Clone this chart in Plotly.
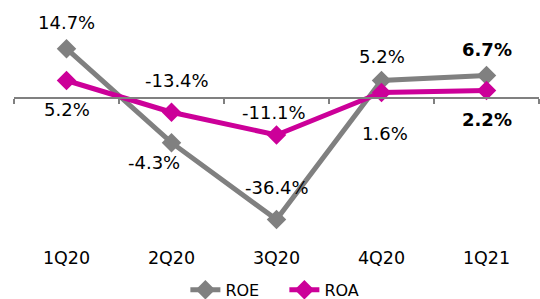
import plotly.graph_objects as go

quarters = ["1Q20", "2Q20", "3Q20", "4Q20", "1Q21"]
roe = [14.7, -13.4, -36.4, 5.2, 6.7]
roa = [5.2, -4.3, -11.1, 1.6, 2.2]

# label styling (offsets in pixels relative to each point)
roe_dx = [0, 5, 0, 0, 0]
roe_dy = [26, 62, 32, 24, 26]
roa_dx = [0, -18, -3, 3, 0]
roa_dy = [-29, -50, 22, -41, -29]
bold_last = [False, False, False, False, True]

GRAY = "#808080"
MAG = "#CC0099"
FONT = "DejaVu Sans"

yr = [-44, 20]

fig = go.Figure()
fig.add_trace(go.Scatter(
    x=quarters, y=roe, name="ROE", mode="lines+markers",
    line=dict(color=GRAY, width=5),
    marker=dict(symbol="diamond", size=15, color=GRAY),
))
fig.add_trace(go.Scatter(
    x=quarters, y=roa, name="ROA", mode="lines+markers",
    line=dict(color=MAG, width=5),
    marker=dict(symbol="diamond", size=15, color=MAG),
))
# invisible trace to carry the zero-line axis
fig.add_trace(go.Scatter(
    x=list(range(len(quarters))), y=[0] * len(quarters), xaxis="x2",
    mode="markers", marker=dict(opacity=0), showlegend=False, hoverinfo="skip",
))

def fmt(v, b):
    t = f"{v:.1f}%"
    return f"<b>{t}</b>" if b else t

anns = []
for i, q in enumerate(quarters):
    anns.append(dict(x=q, y=roe[i], text=fmt(roe[i], bold_last[i]), showarrow=False,
                     xshift=roe_dx[i], yshift=roe_dy[i],
                     font=dict(family=FONT, size=18, color="black")))
    anns.append(dict(x=q, y=roa[i], text=fmt(roa[i], bold_last[i]), showarrow=False,
                     xshift=roa_dx[i], yshift=roa_dy[i],
                     font=dict(family=FONT, size=18, color="black")))

n = len(quarters)
zero_frac = (0 - yr[0]) / (yr[1] - yr[0])

fig.update_layout(
    width=540, height=299,
    margin=dict(l=14, r=1, t=31, b=54, autoexpand=False),
    paper_bgcolor="white", plot_bgcolor="white",
    font=dict(family=FONT, size=17, color="black"),
    showlegend=True,
    legend=dict(orientation="h", x=0.515, xanchor="center", y=-0.13, yanchor="top",
                font=dict(family=FONT, size=16), itemwidth=30, tracegroupgap=0,
                entrywidth=54, entrywidthmode="pixels"),
    xaxis=dict(type="category", categoryorder="array", categoryarray=quarters,
               range=[-0.5, n - 0.5], showline=False, showgrid=False, zeroline=False,
               ticks="", tickfont=dict(family=FONT, size=17.5)),
    xaxis2=dict(overlaying="x", anchor="free", position=zero_frac, range=[-0.5, n - 0.5],
                showline=True, linecolor="#808080", linewidth=1.5,
                ticks="outside", ticklen=5, tickcolor="#808080", tickwidth=1.5,
                tickvals=[i - 0.5 for i in range(n + 1)], showticklabels=False,
                showgrid=False, zeroline=False),
    yaxis=dict(range=yr, visible=False, showgrid=False, zeroline=False),
    annotations=anns,
)

fig.write_html("out.html", config={"displayModeBar": False},
               post_script="document.body.style.margin='0';document.body.style.overflow='hidden';")
